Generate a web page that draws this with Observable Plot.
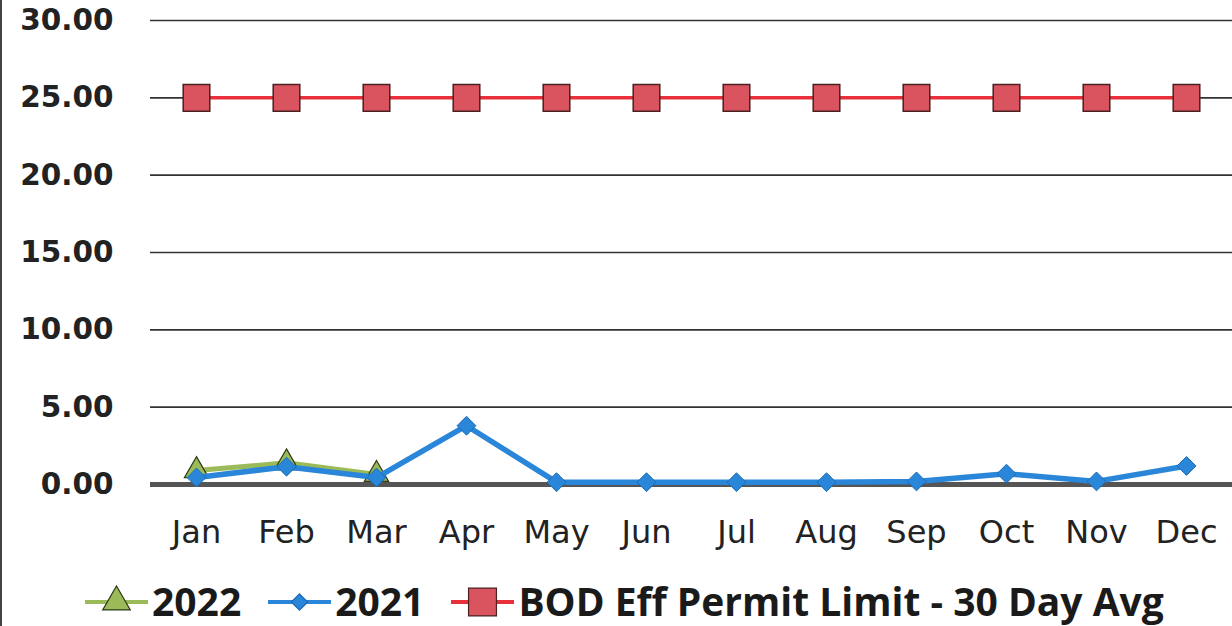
<!DOCTYPE html>
<html><head><meta charset="utf-8">
<script src="https://cdn.jsdelivr.net/npm/d3@7"></script>
<script src="https://cdn.jsdelivr.net/npm/@observablehq/plot@0.6"></script>
<style>
html,body{margin:0;padding:0;background:#fff;}
#wrap{width:1232px;height:626px;position:relative;overflow:hidden;border-left:2px solid #444;box-sizing:border-box;}
#legend{position:absolute;left:83px;top:582px;height:38px;display:flex;align-items:center;font-family:"Open Sans",sans-serif;font-weight:700;font-size:39px;color:#1a1a1a;white-space:nowrap;}
#legend .item{display:flex;align-items:center;margin-right:27px;height:38px;}
#legend .item span{display:inline-block;height:38px;line-height:38px;}
#legend svg{display:block;margin-right:4px;}
</style></head>
<body><div id="wrap"><div id="chart"></div><div id="legend"></div></div>
<script>
const months = ["Jan","Feb","Mar","Apr","May","Jun","Jul","Aug","Sep","Oct","Nov","Dec"];
const values2022 = [0.9, 1.4, 0.65];
const values2021 = [0.45, 1.15, 0.45, 3.8, 0.15, 0.15, 0.15, 0.15, 0.2, 0.7, 0.2, 1.2];
const permitLimit = [25, 25, 25, 25, 25, 25, 25, 25, 25, 25, 25, 25];
const yTicks = [0, 5, 10, 15, 20, 25, 30];
const seriesNames = ["2022", "2021", "BOD Eff Permit Limit - 30 Day Avg"];

const d2022 = values2022.map((v,i)=>({month:months[i], value:v}));
const d2021 = values2021.map((v,i)=>({month:months[i], value:v}));
const dLimit = permitLimit.map((v,i)=>({month:months[i], value:v}));

const green = "#9bbb59", blue = "#2a86d8", red = "#e8303a", sq = "#d9545e";

const chart = Plot.plot({
  width: 1230, height: 565,
  marginLeft: 148, marginRight: 0, marginTop: 20, marginBottom: 81,
  style: {background: "transparent"},
  x: {type: "point", domain: months, padding: 0.5, label: null},
  y: {domain: [0, 30], label: null},
  marks: [
    Plot.ruleY(yTicks.filter(d=>d>0), {stroke: "#333", strokeWidth: 1.6}),
    Plot.ruleY([0], {stroke: "#555", strokeWidth: 5}),
    Plot.axisY({ticks: yTicks, tickSize: 0, tickPadding: 37, tickFormat: d=>d.toFixed(2),
      fontSize: 29.5, fontWeight: "bold", fontFamily: "DejaVu Sans", fill: "#222", label: null}),
    Plot.axisX({tickSize: 0, tickPadding: 36, fontSize: 32, fontFamily: "DejaVu Sans", fill: "#222", label: null}),
    Plot.line(dLimit, {x: "month", y: "value", stroke: red, strokeWidth: 3.5}),
    Plot.dot(dLimit, {x: "month", y: "value", symbol: "square", r: 15, fill: sq, stroke: "#4a2020", strokeWidth: 1.5}),
    Plot.line(d2022, {x: "month", y: "value", stroke: green, strokeWidth: 5}),
    Plot.dot(d2022, {x: "month", y: "value", symbol: "triangle", r: 9, fill: green, stroke: "#2e3a18", strokeWidth: 1.2}),
    Plot.line(d2021, {x: "month", y: "value", stroke: blue, strokeWidth: 5.5}),
    Plot.dot(d2021, {x: "month", y: "value", symbol: "diamond2", r: 8.5, fill: blue, stroke: "#1d6bb5", strokeWidth: 1})
  ]
});
document.getElementById("chart").appendChild(chart);

// Legend
const legend = d3.select("#legend");
const specs = [
  {name: seriesNames[0], color: green, sym: "triangle", fill: green, stroke: "#2e3a18", size: 330},
  {name: seriesNames[1], color: blue, sym: "diamond2", fill: blue, stroke: "#1d6bb5", size: 170},
  {name: seriesNames[2], color: red, sym: "square", fill: sq, stroke: "#4a2020", size: 780}
];
const symMap = {triangle: d3.symbolTriangle, diamond2: d3.symbolDiamond2, square: d3.symbolSquare};
specs.forEach(s => {
  const it = legend.append("div").attr("class","item");
  const sv = it.append("svg").attr("width", 63).attr("height", 38);
  sv.append("line").attr("x1",0).attr("x2",63).attr("y1",20).attr("y2",20).attr("stroke",s.color).attr("stroke-width",4);
  sv.append("path").attr("transform",`translate(31.5,20)`).attr("d", d3.symbol(symMap[s.sym], s.size)())
    .attr("fill", s.fill).attr("stroke", s.stroke).attr("stroke-width",1.2);
  it.append("span").text(s.name);
});
</script></body></html>
